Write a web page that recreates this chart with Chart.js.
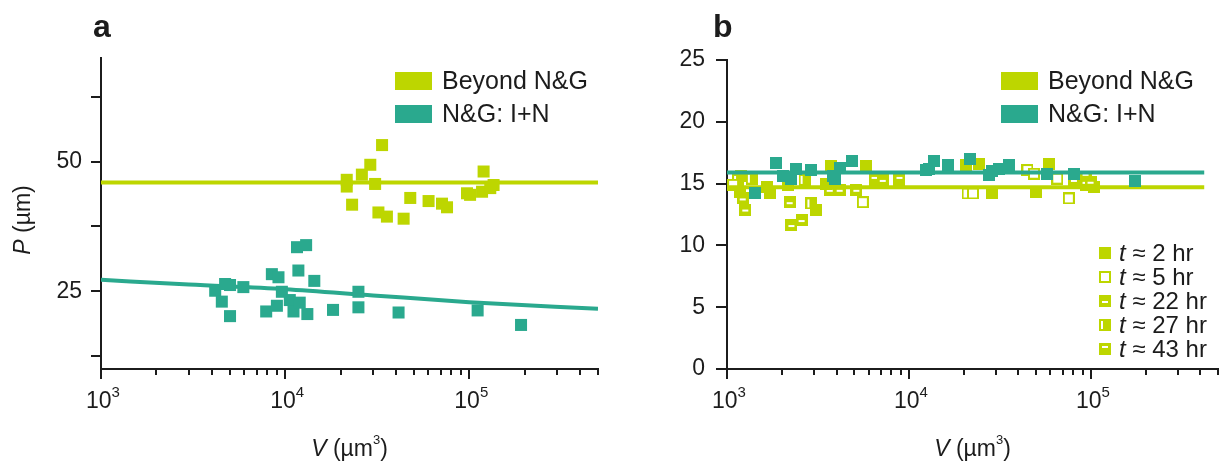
<!DOCTYPE html>
<html>
<head>
<meta charset="utf-8">
<script src="https://cdn.jsdelivr.net/npm/chart.js@4.4.1/dist/chart.umd.min.js"></script>
<style>
  html, body { margin: 0; padding: 0; background: #fff; }
  #wrap { position: relative; width: 1226px; height: 466px; }
  canvas { position: absolute; top: 0; }
</style>
</head>
<body>
<div id="wrap">
  <canvas id="chartA" width="613" height="466" style="left:0"></canvas>
  <canvas id="chartB" width="613" height="466" style="left:613px"></canvas>
</div>
<script>
// ---- panel a data ----
const aBeyondV = [21600, 21600, 26100, 29000, 33600, 30800, 23100, 32100, 35700, 44000, 47800, 60100, 71100, 75700, 97200, 101000, 119600, 117300, 130000, 135500];
const aBeyondP = [46.5, 45.2, 47.5, 49.4, 53.2, 45.7, 41.7, 40.2, 39.4, 39.0, 43.0, 42.4, 41.9, 41.2, 43.9, 43.6, 48.1, 44.2, 44.9, 45.5];
const aNGV = [4170, 4720, 5020, 5930, 4530, 5020, 8470, 9200, 9600, 11600, 13000, 11800, 14400, 7890, 9020, 10600, 11100, 12000, 13200, 18200, 25000, 25000, 41300, 111000, 191000];
const aNGP = [25.1, 26.4, 26.2, 25.8, 23.0, 20.2, 28.3, 27.7, 24.9, 33.5, 33.9, 29.0, 27.0, 21.1, 22.2, 23.3, 21.1, 22.8, 20.6, 21.4, 24.9, 21.9, 20.9, 21.3, 18.5];
const aBeyondFitV = [1000, 500000];
const aBeyondFitP = [46, 46];
const aNGFitV = [1000, 3000, 10000, 30000, 100000, 500000];
const aNGFitP = [27.2, 26.3, 25.4, 24.2, 22.9, 21.6];
const aYTicks = [12.5, 25, 37.5, 50, 62.5];
const aYLabels = [25, 50];

// ---- panel b data ----
const bNGV = [1850, 1420, 2040, 2260, 2390, 2910, 3830, 3910, 4160, 4880, 12400, 12900, 13800, 16300, 21600, 27600, 28800, 31300, 35500, 57700, 80700, 174000];
const bNGP = [16.7, 14.2, 15.6, 15.4, 16.2, 16.1, 15.6, 15.4, 16.3, 16.8, 16.1, 16.2, 16.8, 16.5, 17.0, 15.7, 16.0, 16.2, 16.5, 15.8, 15.8, 15.2];
const b2hV = [3100, 5820, 3750, 1650, 1720, 2170, 3520, 20600, 1180, 24300, 28800, 49800, 58900];
const b2hP = [12.9, 16.4, 16.4, 14.75, 14.2, 14.9, 15.0, 16.5, 14.35, 16.6, 14.2, 14.35, 16.6];
const b5hV = [1080, 5580, 21000, 22500, 44800, 48700, 65400, 75700];
const b5hP = [14.9, 13.5, 14.2, 14.2, 16.1, 15.8, 15.4, 13.8];
const b22hV = [1220, 1260, 2210, 2260, 2570, 5140, 7180, 3670, 4160, 80700, 99600];
const b22hP = [13.8, 12.9, 13.5, 11.65, 12.05, 14.5, 15.3, 14.5, 14.5, 15.3, 15.15];
const b27hV = [2910, 2670, 1370, 1200, 1150];
const b27hP = [13.4, 15.3, 15.4, 15.6, 15.3];
const b43hV = [93500, 103800, 93500, 8870, 6470];
const b43hP = [15.55, 14.75, 14.9, 15.3, 15.3];
const bFitV = [1000, 420000];
const bBeyondFitP = [14.7, 14.7];
const bNGFitP = [15.9, 15.9];
const bYTicks = [0, 5, 10, 15, 20, 25];

// ---- shared labels ----
const seriesLabels = ['Beyond N&G', 'N&G: I+N'];
const timeLabels = ['2', '5', '22', '27', '43'];
const xExponents = [3, 4, 5];

const LIME = '#bdd600';
const TEAL = '#2aa98e';
const INK = '#1c1c1c';
const FONT = '"Liberation Sans", Arial, Helvetica, sans-serif';

function pts(xs, ys) {
  return xs.map((v, i) => ({ x: v, y: ys[i] }));
}

// small square markers for the time groups in panel b
function makeMarker(kind, color) {
  const c = document.createElement('canvas');
  c.width = 12; c.height = 12;
  const g = c.getContext('2d');
  g.fillStyle = color;
  g.fillRect(0, 0, 12, 12);
  g.fillStyle = '#fff';
  if (kind === 'open') g.fillRect(2, 2, 8, 8);
  if (kind === 'barLow') g.fillRect(3, 6, 6, 2);
  if (kind === 'barLeft') g.fillRect(2, 2, 2, 8);
  if (kind === 'barTop') g.fillRect(3, 3, 6, 2);
  return c;
}
const timeMarkers = ['filled', 'open', 'barLow', 'barLeft', 'barTop'].map(k => makeMarker(k, LIME));
const tealMarker = makeMarker('filled', TEAL);

function drawRuns(ctx, runs, x, y, align) {
  let total = 0;
  runs.forEach(r => {
    r.f = (r.italic ? 'italic ' : '') + r.size + 'px ' + FONT;
    ctx.font = r.f;
    r.w = ctx.measureText(r.text).width;
    total += r.w;
  });
  let cx = align === 'center' ? x - total / 2 : x;
  runs.forEach(r => {
    ctx.font = r.f;
    ctx.fillText(r.text, cx, y + (r.dy || 0));
    cx += r.w;
  });
}

const decor = {
  id: 'decor',
  afterDraw(chart, args, o) {
    const ctx = chart.ctx;
    const area = chart.chartArea;
    const xs = chart.scales.x;
    ctx.save();
    ctx.fillStyle = INK;
    ctx.strokeStyle = INK;
    ctx.lineWidth = 2;
    ctx.textAlign = 'left';
    ctx.textBaseline = 'alphabetic';

    // log axis tick marks
    for (let e = 3; e <= 5; e++) {
      for (let m = 1; m <= 9; m++) {
        const v = m * Math.pow(10, e);
        if (v > xs.max * 1.0001) break;
        const px = Math.round(xs.getPixelForValue(v));
        ctx.beginPath();
        ctx.moveTo(px, area.bottom);
        ctx.lineTo(px, area.bottom + (m === 1 ? 10 : 6));
        ctx.stroke();
      }
    }
    xExponents.forEach(e => {
      const px = xs.getPixelForValue(Math.pow(10, e));
      drawRuns(ctx, [{ text: '10', size: 23 }, { text: String(e), size: 15, dy: -11 }], px + 2, 408, 'center');
    });

    // axis titles
    drawRuns(ctx, [
      { text: 'V', italic: true, size: 23 },
      { text: ' (\u00b5m', size: 23 },
      { text: '3', size: 13, dy: -12 },
      { text: ')', size: 23 }
    ], (area.left + area.right) / 2, 456, 'center');

    if (o.yTitle) {
      ctx.save();
      ctx.translate(o.yTitle.x, o.yTitle.y);
      ctx.rotate(-Math.PI / 2);
      ctx.textBaseline = 'middle';
      drawRuns(ctx, [{ text: 'P', italic: true, size: 23 }, { text: ' (\u00b5m)', size: 23 }], 0, 0, 'center');
      ctx.restore();
    }

    // panel letter
    ctx.font = 'bold 32px ' + FONT;
    ctx.fillText(o.letter, o.letterX, 37);

    // series legend
    ctx.textBaseline = 'middle';
    [LIME, TEAL].forEach((col, i) => {
      const cy = 81 + i * 33;
      ctx.fillStyle = col;
      ctx.fillRect(o.legendX, cy - 9, 37, 18);
      ctx.fillStyle = INK;
      ctx.font = '25px ' + FONT;
      ctx.fillText(seriesLabels[i], o.legendX + 47, cy + 1);
    });

    // time legend
    if (o.timeLegend) {
      timeLabels.forEach((t, i) => {
        const cy = 253 + i * 24;
        ctx.drawImage(timeMarkers[i], o.timeLegend.x - 6, Math.round(cy - 6));
        ctx.fillStyle = INK;
        drawRuns(ctx, [{ text: 't', italic: true, size: 24 }, { text: ' \u2248 ' + t + ' hr', size: 24 }], o.timeLegend.x + 14, cy + 1, 'left');
      });
    }
    ctx.restore();
  }
};

function xScale(h) {
  return {
    type: 'logarithmic',
    min: 1000,
    max: 500000,
    afterFit: s => { s.height = h; },
    ticks: { display: false },
    grid: { display: false },
    border: { display: true, color: INK, width: 2 }
  };
}

// ---- panel a ----
new Chart(document.getElementById('chartA'), {
  type: 'scatter',
  data: {
    datasets: [
      { label: seriesLabels[1], data: pts(aNGV, aNGP), pointStyle: 'rect', pointRadius: 8.5, pointBorderWidth: 0, backgroundColor: TEAL, pointBackgroundColor: TEAL, order: 0 },
      { label: seriesLabels[0], data: pts(aBeyondV, aBeyondP), pointStyle: 'rect', pointRadius: 8.5, pointBorderWidth: 0, backgroundColor: LIME, pointBackgroundColor: LIME, order: 1 },
      { label: 'fit I+N', data: pts(aNGFitV, aNGFitP), showLine: true, pointRadius: 0, borderColor: TEAL, borderWidth: 4, cubicInterpolationMode: 'monotone', order: 2 },
      { label: 'fit beyond', data: pts(aBeyondFitV, aBeyondFitP), showLine: true, pointRadius: 0, borderColor: LIME, borderWidth: 4, order: 3 }
    ]
  },
  options: {
    responsive: false,
    animation: false,
    events: [],
    layout: { padding: { left: 0, right: 15, top: 58, bottom: 0 } },
    plugins: {
      legend: { display: false },
      tooltip: { enabled: false },
      decor: { letter: 'a', letterX: 93, legendX: 395, yTitle: { x: 24, y: 220 } }
    },
    scales: {
      x: xScale(97),
      y: {
        min: 10,
        max: 70,
        afterBuildTicks: s => { s.ticks = aYTicks.map(v => ({ value: v })); },
        afterFit: s => { s.width = 101; },
        ticks: {
          autoSkip: false,
          padding: 9,
          color: INK,
          font: { family: FONT, size: 23 },
          callback: v => aYLabels.includes(v) ? String(v) : ''
        },
        grid: { drawOnChartArea: false, tickLength: 10, color: INK, lineWidth: 2 },
        border: { color: INK, width: 2 }
      }
    }
  },
  plugins: [decor]
});

// ---- panel b ----
const timeSets = [[b2hV, b2hP], [b5hV, b5hP], [b22hV, b22hP], [b27hV, b27hP], [b43hV, b43hP]];
new Chart(document.getElementById('chartB'), {
  type: 'scatter',
  data: {
    datasets: [
      { label: seriesLabels[1], data: pts(bNGV, bNGP), pointStyle: tealMarker, pointRadius: 6, order: 0 },
      { label: 'fit I+N', data: pts(bFitV, bNGFitP), showLine: true, pointRadius: 0, borderColor: TEAL, borderWidth: 4, order: 1 },
      { label: 'fit beyond', data: pts(bFitV, bBeyondFitP), showLine: true, pointRadius: 0, borderColor: LIME, borderWidth: 4, order: 2 }
    ].concat(timeSets.map((s, i) => ({
      label: 't ≈ ' + timeLabels[i] + ' hr',
      data: pts(s[0], s[1]),
      pointStyle: timeMarkers[i],
      pointRadius: 6,
      order: 3 + i
    })))
  },
  options: {
    responsive: false,
    animation: false,
    events: [],
    layout: { padding: { left: 0, right: 8, top: 60, bottom: 0 } },
    plugins: {
      legend: { display: false },
      tooltip: { enabled: false },
      decor: { letter: 'b', letterX: 100, legendX: 388, timeLegend: { x: 492 } }
    },
    scales: {
      x: xScale(97),
      y: {
        min: 0,
        max: 25,
        afterBuildTicks: s => { s.ticks = bYTicks.map(v => ({ value: v })); },
        afterFit: s => { s.width = 114; },
        ticks: {
          autoSkip: false,
          padding: 11,
          color: INK,
          font: { family: FONT, size: 23 }
        },
        grid: { drawOnChartArea: false, tickLength: 11, color: INK, lineWidth: 2 },
        border: { color: INK, width: 2 }
      }
    }
  },
  plugins: [decor]
});
</script>
</body>
</html>
